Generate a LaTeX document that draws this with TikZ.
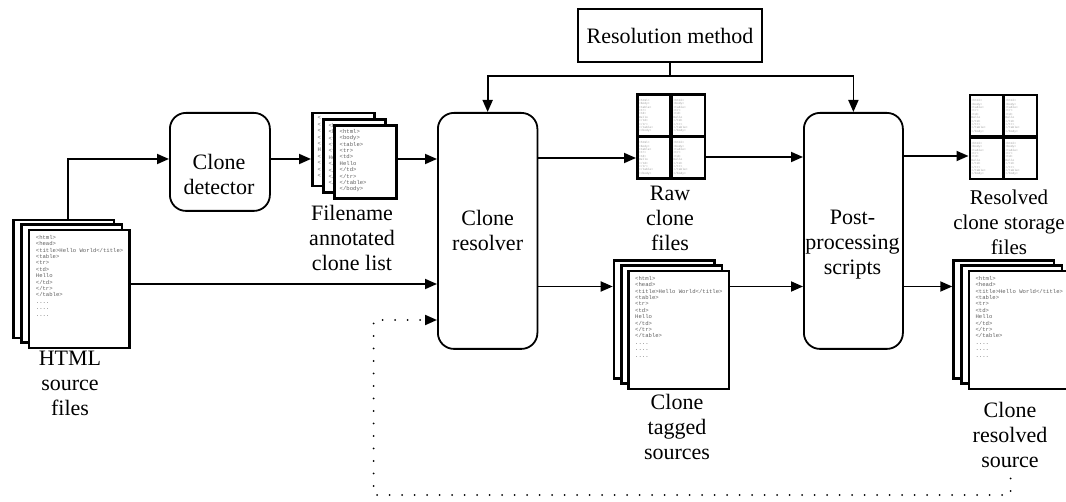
\documentclass[tikz,border=0pt]{standalone}
\usepackage{fontspec}
\setmainfont{Liberation Serif}
\newfontfamily\pagefont{Liberation Mono}
\usetikzlibrary{arrows.meta}
\newcommand{\srccode}{<html>\\<head>\\<title>Hello World</title>\\<table>\\<tr>\\<td>\\Hello\\</td>\\</tr>\\</table>\\....\\....\\....}
\newcommand{\listcode}{<html>\\<body>\\<table>\\<tr>\\<td>\\Hello\\</td>\\</tr>\\</table>\\</body>}
\newcommand{\listcodeA}{<\\<\\<\\<\\<\\H\\<\\<\\<\\<}
\newcommand{\listcodeB}{<h\\<b\\<t\\<t\\<t\\He\\</\\</\\</\\</}
\begin{document}
\begin{tikzpicture}[x=1pt,y=-1pt,
  lbl/.style={font=\fontsize{22}{25}\selectfont, align=center, inner sep=0pt},
  proc/.style={draw, line width=1.8pt, rounded corners=16pt, inner sep=0pt, anchor=north west},
  pg/.style={draw, line width=2.5pt, fill=white, inner sep=0pt, anchor=north west},
  bigpg/.style={pg, minimum width=100.5pt, minimum height=118pt},
  midpg/.style={pg, minimum width=62pt, minimum height=73pt},
  smallpg/.style={pg, minimum width=33pt, minimum height=41.5pt},
  code/.style={anchor=north west, inner sep=0pt, align=left, text=gray!75!black, font=\pagefont\fontsize{5.6}{6.4}\selectfont},
  tinycode/.style={code, text=gray!80, font=\pagefont\fontsize{2.9}{3.4}\selectfont},
  conn/.style={line width=1.8pt, -{Triangle[length=12pt,width=10pt]}},
  plain/.style={line width=1.8pt},
  dots/.style={line width=2pt, line cap=round, dash pattern=on 0pt off 12.5pt}
]
\useasboundingbox (0,0) rectangle (1066,502);

% process boxes
\node[lbl, draw, line width=1.8pt, minimum width=184pt, minimum height=53pt] (rm) at (670,35.5) {Resolution method};
\node[proc, minimum width=100pt, minimum height=98pt] (cd) at (169,112) {};
\node[lbl] (cdt) at (219,174.5) {Clone\\detector};
\node[proc, lbl, minimum width=99.5pt, minimum height=236pt] (cr) at (437,112) {Clone\\resolver};
\node[proc, minimum width=99pt, minimum height=236pt] (pp) at (803,112) {};
\node[lbl] (ppt) at (852.5,244.5) {Post-\\processing\\scripts};

% HTML source files
\node[bigpg] (h1) at (12.3,219) {};
\node[bigpg] (h2) at (20,223.5) {};
\node[bigpg] (h3) at (27.7,229) {};
\node[code] (h3c) at ([shift={(8,6)}]h3.north west) {\srccode};
\node[lbl] (hl) at (70,383) {HTML\\source\\files};

% filename annotated clone list
\node[midpg] (f1) at (311,112) {};
\node[code] (f1c) at ([shift={(6.5,4.5)}]f1.north west) {\listcodeA};
\node[midpg] (f2) at (322,118.5) {};
\node[code] (f2c) at ([shift={(6.5,4.5)}]f2.north west) {\listcodeB};
\node[midpg] (f3) at (333,124.5) {};
\node[code] (f3c) at ([shift={(6.5,4.5)}]f3.north west) {\listcode};
\node[lbl] (fl) at (352,238) {Filename\\annotated\\clone list};

% raw clone files
\foreach \n/\x/\y in {r11/636/93.5, r12/670.5/93.5, r21/636/136, r22/670.5/136}{
  \node[smallpg] (\n) at (\x,\y) {};
  \node[tinycode] (\n c) at ([shift={(3,5.5)}]\n.north west) {\listcode};
}
\node[lbl] (rl) at (670,218) {Raw\\clone\\files};

% clone tagged sources
\node[bigpg] (t1) at (612.7,259.3) {};
\node[bigpg] (t2) at (620,264.5) {};
\node[bigpg] (t3) at (627.3,270) {};
\node[code] (t3c) at ([shift={(7.7,6)}]t3.north west) {\srccode};
\node[lbl] (tl) at (677,427) {Clone\\tagged\\sources};

% resolved clone storage files
\foreach \n/\x/\y in {s11/968.5/94, s12/1002.5/94, s21/968.5/136.5, s22/1002.5/136.5}{
  \node[smallpg] (\n) at (\x,\y) {};
  \node[tinycode] (\n c) at ([shift={(3,5.5)}]\n.north west) {\listcode};
}
\node[lbl, font=\fontsize{21}{25}\selectfont] (sl) at (1009,222) {Resolved\\clone storage\\files};

% clone resolved source
\node[bigpg] (c1) at (952.3,259.3) {};
\node[bigpg] (c2) at (960,264.5) {};
\node[bigpg] (c3) at (967.7,270) {};
\node[code] (c3c) at ([shift={(7.7,6)}]c3.north west) {\srccode};
\node[lbl] (cl) at (1010,435) {Clone\\resolved\\source};

% junction coordinates
\coordinate (j1) at (68,159);
\coordinate (j2) at (0,284);
\coordinate (j3) at (670,76);
\coordinate (j4) at (0,158);
\coordinate (j5) at (0,157);
\coordinate (j6) at (0,286.5);
\coordinate (j7) at (0,156);
\coordinate (d1) at (1010.5,466);
\coordinate (d2) at (1010.5,495);
\coordinate (d3) at (373.5,495);
\coordinate (d4) at (373.5,320);

% connectors
\draw[conn] (h1.north -| j1) -- (j1) -- (cd.west |- j1);
\draw[conn] (cd.east |- j1) -- (f1.west |- j1);
\draw[conn] (f3.east |- j1) -- (cr.west |- j1);
\draw[conn] (h3.east |- j2) -- (cr.west |- j2);
\draw[conn] (rm.south) -- (j3) -| (cr.north);
\draw[conn] (j3) -| (pp.north);
\draw[conn] (cr.east |- j4) -- (r21.west |- j4);
\draw[conn] (r22.east |- j5) -- (pp.west |- j5);
\draw[conn] (cr.east |- j6) -- (t1.west |- j6);
\draw[conn] (t3.east |- j6) -- (pp.west |- j6);
\draw[conn] (pp.east |- j7) -- (s21.west |- j7);
\draw[conn] (pp.east |- j6) -- (c1.west |- j6);
\draw[dots, -{Triangle[length=12pt,width=10pt]}] (d1) -- (d2) -- (d3) -- (d4) -- (cr.west |- d4);
\end{tikzpicture}
\end{document}
